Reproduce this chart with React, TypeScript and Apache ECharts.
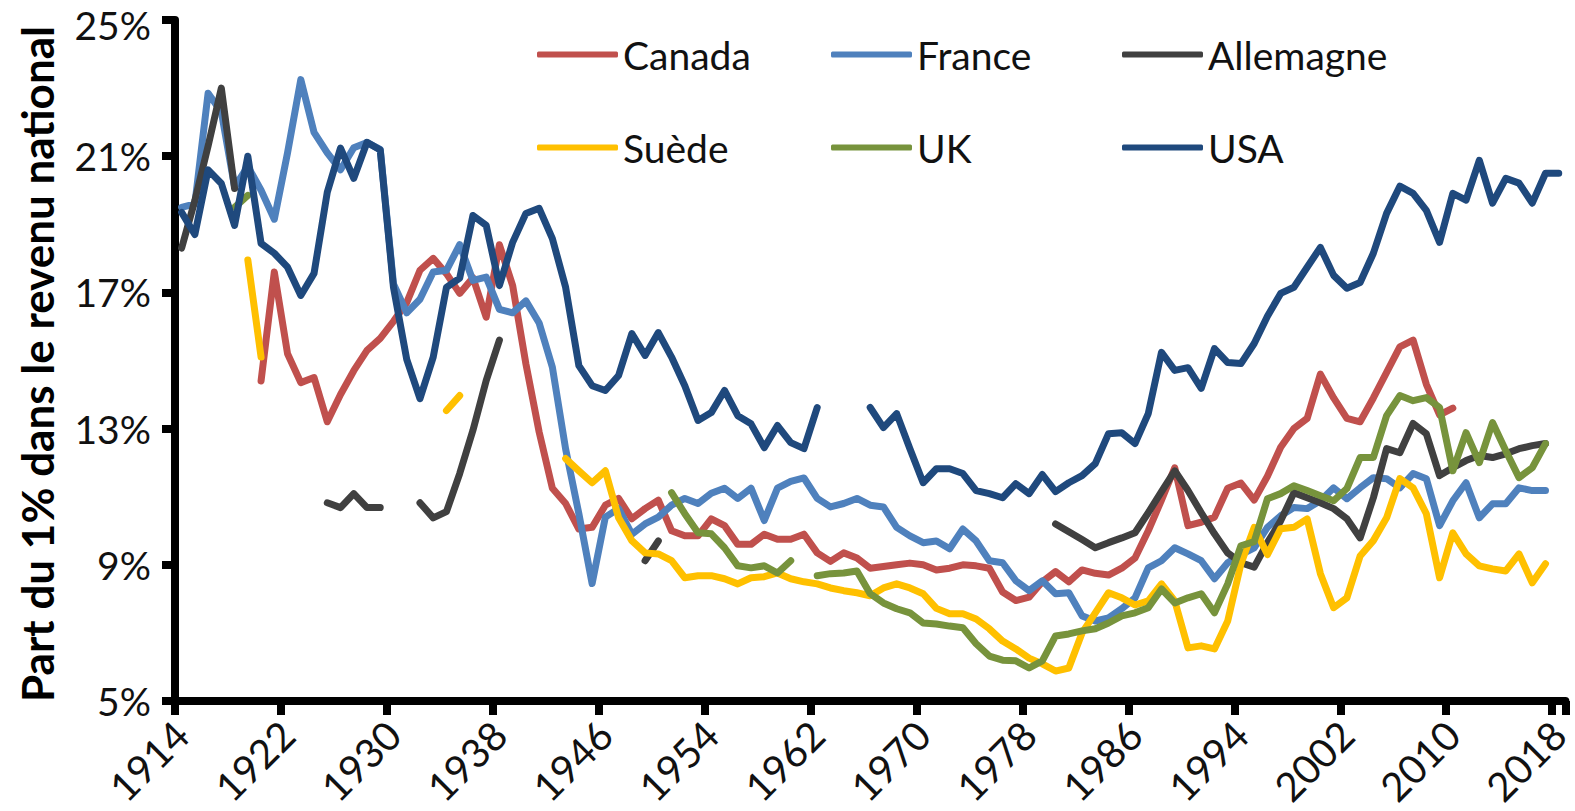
import React, { useEffect, useRef } from "react";
import * as echarts from "echarts";

const FONT = 'Lato, "Noto Sans", sans-serif';

const years: string[] = Array.from({ length: 105 }, (_, i) => String(1914 + i));

const yTicks = [5, 9, 13, 17, 21, 25];

const canada: (number | null)[] = [
  null, null, null, null, null, null,
  14.4, 17.6, 15.2, 14.35, 14.5, 13.2, 14.0, 14.7, 15.3, 15.65,
  16.15, 16.7, 17.65, 18.0, 17.55, 16.97, 17.43, 16.27, 18.4, 17.2,
  14.9, 12.9, 11.25, 10.8, 10.05, 10.1, 10.75, 10.95, 10.35, 10.65,
  10.9, 10.0, 9.85, 9.85, 10.35, 10.15, 9.6, 9.6, 9.9, 9.75,
  9.75, 9.9, 9.35, 9.1, 9.35, 9.2, 8.9, 8.95, 9.0, 9.05,
  9.0, 8.85, 8.9, 9.0, 8.97, 8.9, 8.2, 7.95, 8.05, 8.5,
  8.8, 8.5, 8.85, 8.75, 8.7, 8.9, 9.2, 10.0, 10.9, 11.85,
  10.15, 10.25, 10.4, 11.25, 11.4, 10.9, 11.6, 12.45, 13.0, 13.3,
  14.6, 13.9, 13.3, 13.2, 13.9, 14.65, 15.4, 15.6, 14.3, 13.4,
  13.6, null, null, null, null, null, null, null, null,
];

const france: (number | null)[] = [
  19.5, 19.6, 22.85, 22.3, 20.1, 20.7,
  20.0, 19.15, 21.1, 23.25, 21.7, 21.1, 20.6, 21.25, 21.4, 21.2,
  17.25, 16.4, 16.8, 17.6, 17.65, 18.4, 17.35, 17.45, 16.5, 16.4,
  16.75, 16.1, 14.8, 12.4, 10.5, 8.45, 10.4, 10.65, 9.9, 10.2,
  10.4, 10.75, 10.95, 10.8, 11.1, 11.25, 10.95, 11.25, 10.3, 11.25,
  11.45, 11.55, 10.95, 10.7, 10.8, 10.95, 10.75, 10.7, 10.1, 9.85,
  9.65, 9.7, 9.47, 10.05, 9.7, 9.12, 9.06, 8.53, 8.24, 8.53,
  8.15, 8.18, 7.5, 7.35, 7.44, 7.71, 8.03, 8.91, 9.12, 9.5,
  9.32, 9.12, 8.59, 9.06, 9.3, 9.5, 10.1, 10.44, 10.68, 10.65,
  10.88, 11.26, 10.94, 11.26, 11.56, 11.53, 11.26, 11.68, 11.53, 10.15,
  10.88, 11.41, 10.38, 10.79, 10.79, 11.26, 11.18, 11.18, null,
];

const allemagne: (number | null)[] = [
  18.3, 19.7, 21.3, 23.0, 20.05, null,
  null, null, null, null, null, 10.82, 10.68, 11.09, 10.68, 10.68,
  null, null, 10.82, 10.38, 10.56, 11.68, 12.95, 14.41, 15.6, null,
  null, null, null, null, null, null, null, null, null, 9.12,
  9.7, null, null, null, null, null, null, null, null, null,
  null, null, null, null, null, null, null, null, null, null,
  null, null, null, null, null, null, null, null, null, null,
  10.2, 9.97, 9.74, 9.5, 9.65, 9.79, 9.94, 10.53, 11.15, 11.76,
  11.18, 10.53, 9.91, 9.35, 9.06, 8.93, 9.65, 10.29, 11.12, 10.97,
  10.82, 10.65, 10.35, 9.79, 10.97, 12.41, 12.29, 13.15, 12.85, 11.62,
  11.85, 12.06, 12.21, 12.15, 12.26, 12.41, 12.5, 12.56, null,
];

const suede: (number | null)[] = [
  null, null, null, null, null, 17.95,
  15.1, null, null, null, null, null, null, null, null, null,
  null, null, null, null, 13.53, 13.97, null, null, null, null,
  null, null, null, 12.12, 11.76, 11.41, 11.76, 10.38, 9.71, 9.35,
  9.32, 9.12, 8.62, 8.68, 8.68, 8.59, 8.44, 8.62, 8.65, 8.76,
  8.59, 8.5, 8.44, 8.32, 8.24, 8.18, 8.09, 8.32, 8.44, 8.32,
  8.15, 7.72, 7.56, 7.56, 7.41, 7.12, 6.76, 6.53, 6.26, 6.09,
  5.88, 5.97, 7.0, 7.59, 8.18, 8.03, 7.82, 7.94, 8.44, 7.94,
  6.56, 6.62, 6.53, 7.35, 9.03, 10.1, 9.3, 10.06, 10.1, 10.35,
  8.74, 7.74, 8.03, 9.26, 9.71, 10.38, 11.53, 11.26, 10.5, 8.62,
  9.94, 9.32, 8.97, 8.88, 8.82, 9.32, 8.47, 9.03, null,
];

const uk: (number | null)[] = [
  null, null, null, null, 19.5, 19.85,
  null, null, null, null, null, null, null, null, null, null,
  null, null, null, null, null, null, null, null, null, null,
  null, null, null, null, null, null, null, null, null, null,
  null, 11.12, 10.5, 9.94, 9.91, 9.5, 8.97, 8.91, 8.97, 8.76,
  9.12, null, 8.68, 8.74, 8.76, 8.82, 8.15, 7.88, 7.71, 7.59,
  7.29, 7.26, 7.2, 7.15, 6.68, 6.32, 6.2, 6.18, 5.97, 6.18,
  6.91, 6.97, 7.06, 7.12, 7.29, 7.5, 7.59, 7.74, 8.29, 7.88,
  8.03, 8.15, 7.59, 8.44, 9.56, 9.68, 10.94, 11.09, 11.32, 11.18,
  11.03, 10.88, 11.24, 12.15, 12.15, 13.38, 13.97, 13.82, 13.91, 13.62,
  11.76, 12.88, 12.0, 13.18, 12.35, 11.56, 11.85, 12.56, null,
];

const usa: (number | null)[] = [
  19.35, 18.7, 20.6, 20.2, 18.97, 21.0,
  18.44, 18.15, 17.74, 16.91, 17.56, 19.94, 21.24, 20.35, 21.41, 21.18,
  17.15, 15.03, 13.88, 15.1, 17.15, 17.42, 19.26, 18.97, 17.2, 18.47,
  19.32, 19.47, 18.58, 17.15, 14.85, 14.26, 14.12, 14.56, 15.79, 15.15,
  15.82, 15.1, 14.26, 13.24, 13.47, 14.12, 13.38, 13.14, 12.44, 13.09,
  12.59, 12.41, 13.62, null, null, null, 13.62, 13.03, 13.44, 12.41,
  11.41, 11.82, 11.82, 11.68, 11.18, 11.09, 10.97, 11.38, 11.09, 11.65,
  11.15, 11.41, 11.62, 11.97, 12.85, 12.88, 12.56, 13.44, 15.24, 14.71,
  14.79, 14.18, 15.35, 14.94, 14.91, 15.5, 16.3, 16.97, 17.15, 17.74,
  18.32, 17.5, 17.12, 17.29, 18.15, 19.32, 20.12, 19.91, 19.41, 18.47,
  19.91, 19.71, 20.88, 19.62, 20.35, 20.21, 19.62, 20.5, 20.5,
];

const seriesNames = ["Canada", "France", "Allemagne", "Suède", "UK", "USA"];
const seriesData = [canada, france, allemagne, suede, uk, usa];
const seriesColors = ["#C0504D", "#4F81BD", "#404040", "#FFC000", "#77933C", "#1F497D"];

const titleText = "Part du 1% dans le revenu national";

export default function App() {
  const ref = useRef<HTMLDivElement>(null);

  useEffect(() => {
    if (!ref.current) return;
    const chart = echarts.init(ref.current, null, { renderer: "svg" });

    const legendPos = [
      { left: 537, top: 35 },
      { left: 831, top: 35 },
      { left: 1122, top: 35 },
      { left: 537, top: 128 },
      { left: 831, top: 128 },
      { left: 1122, top: 128 },
    ];

    const yMax = yTicks[yTicks.length - 1];

    chart.setOption({
      animation: false,
      backgroundColor: "#ffffff",
      grid: { left: 175, right: 8, top: 20, bottom: 110, containLabel: false },
      legend: seriesNames.map((name, i) => ({
        data: [name],
        left: legendPos[i].left,
        top: legendPos[i].top,
        padding: 0,
        itemGap: 0,
        itemWidth: 81,
        itemHeight: 6,
        icon: "roundRect",
        selectedMode: false,
        textStyle: { fontSize: 39, color: "#111111", fontFamily: FONT },
      })),
      xAxis: {
        type: "category",
        data: years,
        boundaryGap: true,
        axisLine: { show: true, lineStyle: { color: "#000000", width: 8 } },
        axisTick: { show: true, interval: 7, length: 14, lineStyle: { color: "#000000", width: 8 } },
        axisLabel: {
          interval: 7,
          rotate: 45,
          fontSize: 40,
          color: "#111111",
          fontFamily: FONT,
          margin: 27,
        },
        splitLine: { show: false },
      },
      yAxis: {
        type: "value",
        min: yTicks[0],
        max: yMax,
        interval: yTicks[1] - yTicks[0],
        axisLine: { show: true, lineStyle: { color: "#000000", width: 8 } },
        axisTick: { show: true, length: 13, lineStyle: { color: "#000000", width: 8 } },
        axisLabel: {
          formatter: (v: number) => (v === yMax ? `{top|${v}%}` : `${v}%`),
          fontSize: 39,
          color: "#111111",
          fontFamily: FONT,
          margin: 24,
          rich: {
            top: {
              fontSize: 39,
              color: "#111111",
              fontFamily: FONT,
              padding: [9, 0, 0, 0],
            },
          },
        },
        splitLine: { show: false },
      },
      graphic: [
        {
          type: "text",
          x: 37,
          y: 364,
          rotation: Math.PI / 2,
          silent: true,
          style: {
            text: titleText,
            fontSize: 44,
            fontWeight: "bold",
            fontFamily: FONT,
            fill: "#000000",
            align: "center",
            verticalAlign: "middle",
            textAlign: "center",
            textVerticalAlign: "middle",
          },
        },
      ],
      series: seriesNames.map((name, i) => ({
        name,
        type: "line",
        data: seriesData[i],
        symbol: "none",
        showSymbol: false,
        connectNulls: false,
        silent: true,
        emphasis: { disabled: true },
        itemStyle: { color: seriesColors[i] },
        lineStyle: { width: 7, color: seriesColors[i], cap: "round", join: "round" },
      })),
    });

    return () => chart.dispose();
  }, []);

  return (
    <div
      ref={ref}
      style={{ position: "absolute", left: 0, top: 0, width: 1575, height: 811, background: "#fff" }}
    />
  );
}
